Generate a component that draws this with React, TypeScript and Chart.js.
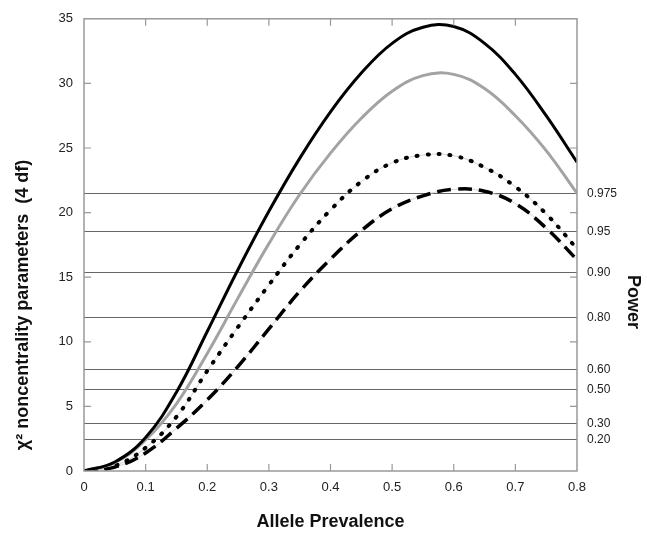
import React, { useEffect, useRef } from "react";
import { Chart, registerables } from "chart.js";

Chart.register(...registerables);

const prevalence = [0, 0.05, 0.1, 0.15, 0.2, 0.25, 0.3, 0.35, 0.4, 0.45, 0.5, 0.55, 0.6, 0.65, 0.7, 0.75, 0.8];
const blackSeries = [0, 0.7, 2.6, 6.1, 10.8, 15.6, 20.1, 24.2, 27.8, 30.8, 33.1, 34.35, 34.4, 33.1, 30.7, 27.5, 23.9];
const graySeries = [0, 0.65, 2.4, 5.2, 9.1, 13.4, 17.6, 21.4, 24.6, 27.3, 29.4, 30.6, 30.7, 29.6, 27.5, 24.8, 21.5];
const dottedSeries = [0, 0.4, 1.8, 4.2, 7.75, 11.15, 14.4, 17.5, 20.2, 22.4, 23.85, 24.45, 24.4, 23.5, 22.0, 19.9, 17.2];
const dashedSeries = [0, 0.3, 1.4, 3.3, 5.5, 8.1, 11.0, 13.9, 16.4, 18.6, 20.3, 21.3, 21.8, 21.65, 20.7, 18.8, 16.35];

const powerLabels = ["0.20", "0.30", "0.50", "0.60", "0.80", "0.90", "0.95", "0.975"];
const powerNoncentrality = [2.46, 3.68, 6.29, 7.83, 11.9, 15.35, 18.5, 21.44];

const yTicks = [0, 5, 10, 15, 20, 25, 30, 35];

const xTitle = "Allele Prevalence";
const yTitle = "χ² noncentrality parameters  (4 df)";
const rightTitle = "Power";

const FONT = "'Liberation Sans', Arial, sans-serif";

const toPoints = (ys: number[]) => prevalence.map((x, i) => ({ x, y: ys[i] }));

const framePlugin = {
  id: "framePlugin",
  afterDraw(chart: any) {
    const { ctx, chartArea } = chart;
    const { left, right, top, bottom } = chartArea;
    const xs = chart.scales.x;
    const ys = chart.scales.y;
    ctx.save();
    ctx.strokeStyle = "#999";
    ctx.lineWidth = 1.5;
    ctx.strokeRect(left, top, right - left, bottom - top);
    ctx.lineWidth = 1.2;
    const tl = 7;
    xs.ticks.forEach((t: any) => {
      const px = xs.getPixelForValue(t.value);
      if (Math.abs(px - left) < 2 || Math.abs(px - right) < 2) return;
      ctx.beginPath();
      ctx.moveTo(px, bottom);
      ctx.lineTo(px, bottom - tl);
      ctx.moveTo(px, top);
      ctx.lineTo(px, top + tl);
      ctx.stroke();
    });
    ys.ticks.forEach((t: any) => {
      const py = ys.getPixelForValue(t.value);
      if (Math.abs(py - top) < 2 || Math.abs(py - bottom) < 2) return;
      ctx.beginPath();
      ctx.moveTo(left, py);
      ctx.lineTo(left + tl, py);
      ctx.moveTo(right, py);
      ctx.lineTo(right - tl, py);
      ctx.stroke();
    });
    ctx.fillStyle = "#111";
    ctx.font = `bold 18px ${FONT}`;
    ctx.textAlign = "center";
    ctx.textBaseline = "middle";
    ctx.save();
    ctx.translate(23, 305);
    ctx.rotate(-Math.PI / 2);
    ctx.fillText(yTitle, 0, 0);
    ctx.restore();
    ctx.save();
    ctx.translate(633, 302);
    ctx.rotate(Math.PI / 2);
    ctx.fillText(rightTitle, 0, 0);
    ctx.restore();
    ctx.restore();
  },
};

export default function App() {
  const ref = useRef<HTMLCanvasElement | null>(null);
  useEffect(() => {
    if (!ref.current) return;
    const thinGuide = (ys: number[]) => ({
      data: toPoints(ys),
      borderColor: "#c8c8c8",
      borderWidth: 0.8,
      pointRadius: 0,
      fill: false,
      tension: 0.4,
    });
    const chart = new Chart(ref.current, {
      type: "line",
      data: {
        datasets: [
          {
            data: toPoints(blackSeries),
            borderColor: "#000",
            borderWidth: 3,
            pointRadius: 0,
            fill: false,
            tension: 0.4,
          },
          {
            data: toPoints(graySeries),
            borderColor: "#a3a3a3",
            borderWidth: 3,
            pointRadius: 0,
            fill: false,
            tension: 0.4,
          },
          {
            data: toPoints(dottedSeries),
            borderColor: "#000",
            borderWidth: 4,
            borderDash: [1, 10],
            borderCapStyle: "round",
            pointRadius: 0,
            fill: false,
            tension: 0.4,
          },
          {
            data: toPoints(dashedSeries),
            borderColor: "#000",
            borderWidth: 3.5,
            borderDash: [14, 7],
            pointRadius: 0,
            fill: false,
            tension: 0.4,
          },
          thinGuide(dottedSeries),
          thinGuide(dashedSeries),
        ],
      },
      options: {
        animation: false,
        responsive: false,
        maintainAspectRatio: false,
        layout: { padding: { top: 15, left: 0, right: 0, bottom: 0 } },
        plugins: { legend: { display: false }, tooltip: { enabled: false } },
        scales: {
          x: {
            type: "linear",
            min: 0,
            max: 0.8,
            ticks: {
              stepSize: 0.1,
              padding: 9,
              color: "#222",
              font: { size: 13, family: FONT },
            },
            grid: { display: false, drawTicks: false },
            border: { display: false },
            title: {
              display: true,
              text: xTitle,
              color: "#111",
              font: { size: 18, weight: "bold", family: FONT },
              padding: { top: 0, bottom: 2 },
            },
            afterFit: (s: any) => {
              s.height = 64;
            },
          },
          y: {
            type: "linear",
            position: "left",
            min: 0,
            max: 35,
            afterBuildTicks: (s: any) => {
              s.ticks = yTicks.map((v) => ({ value: v }));
            },
            ticks: {
              padding: 11,
              color: "#222",
              font: { size: 13, family: FONT },
            },
            grid: { display: false, drawTicks: false },
            border: { display: false },
            afterFit: (s: any) => {
              s.width = 84;
            },
          },
          y1: {
            type: "linear",
            position: "right",
            min: 0,
            max: 35,
            afterBuildTicks: (s: any) => {
              s.ticks = powerNoncentrality.map((v) => ({ value: v }));
            },
            ticks: {
              padding: 10,
              color: "#222",
              font: { size: 12, family: FONT },
              callback: (v: any) => {
                const i = powerNoncentrality.indexOf(Number(v));
                return i >= 0 ? powerLabels[i] : "";
              },
            },
            grid: { display: true, drawOnChartArea: true, drawTicks: false, color: "#666", lineWidth: 1 },
            border: { display: false },
            afterFit: (s: any) => {
              s.width = 70;
            },
          },
        },
      },
      plugins: [framePlugin],
    });
    return () => chart.destroy();
  }, []);
  return (
    <div style={{ position: "fixed", left: 0, top: 0, width: 647, height: 535, background: "#fff" }}>
      <canvas ref={ref} width={647} height={535} style={{ display: "block" }} />
    </div>
  );
}
